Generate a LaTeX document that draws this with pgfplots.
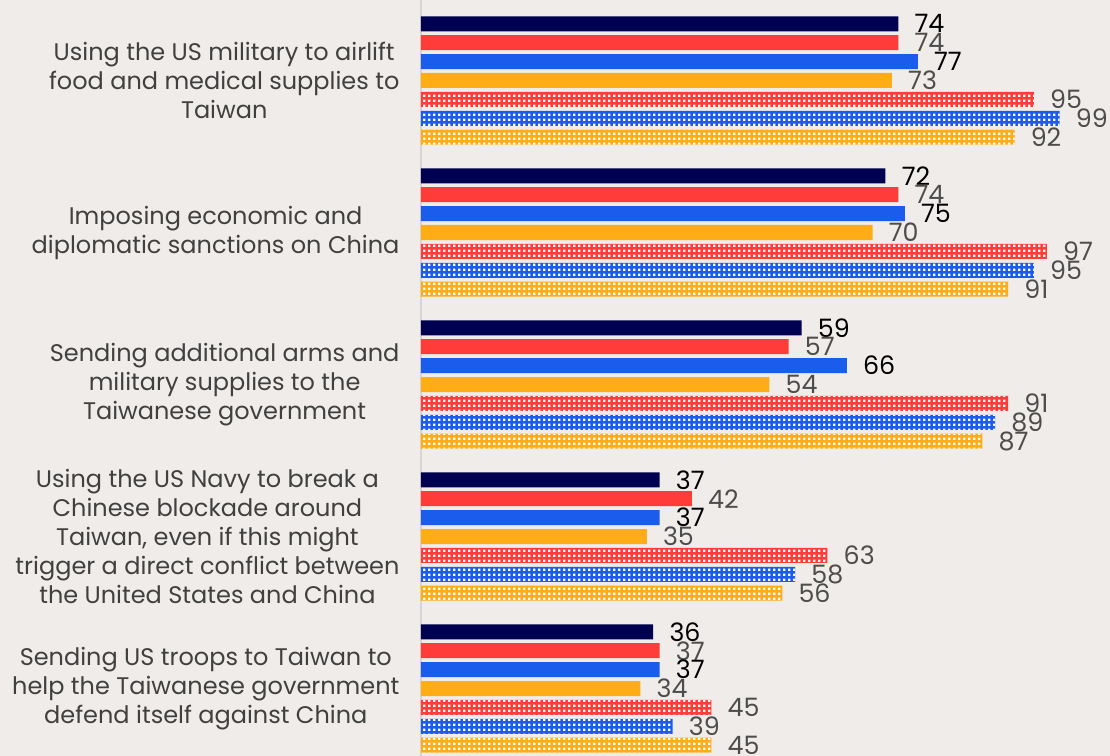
\documentclass[border=0pt]{standalone}
\usepackage{pgfplots}
\pgfplotsset{compat=1.18}
\usepackage{fontspec}
\setmainfont{Poppins}
\usetikzlibrary{patterns}
\definecolor{bg}{RGB}{239,236,233}
\definecolor{navy}{RGB}{0,0,80}
\definecolor{cred}{RGB}{255,60,56}
\definecolor{cblue}{RGB}{27,92,237}
\definecolor{corange}{RGB}{255,173,23}
\definecolor{textgray}{RGB}{64,64,64}
\definecolor{valgray}{RGB}{77,77,77}
\definecolor{linegray}{RGB}{215,212,209}
\pgfdeclarepatternformonly{whitesq}{\pgfpointorigin}{\pgfqpoint{3.6pt}{3.6pt}}{\pgfqpoint{3.6pt}{3.6pt}}{%
  \pgfpathrectangle{\pgfqpoint{0.9pt}{0.9pt}}{\pgfqpoint{1.8pt}{1.8pt}}\pgfusepath{fill}}
\begin{document}
\begin{tikzpicture}
\useasboundingbox (-315.75pt,0pt) rectangle (516.75pt,567pt);
\fill[bg] (-315.75pt,0pt) rectangle (516.75pt,567pt);
\begin{axis}[
  scale only axis, width=516.75pt, height=567pt,
  xmin=0, xmax=106.8, ymin=-0.5296, ymax=4.444,
  y dir=reverse, xbar, bar width=0.0987,
  clip=false,
  /pgf/number format/assume math mode=true,
  axis x line=none, axis y line=left,
  y axis line style={-, draw=linegray, line width=2.2pt},
  major tick length=0pt,
  ytick={0,1,2,3,4},
  yticklabels={
    {Using the US military to airlift\\food and medical supplies to\\Taiwan},
    {Imposing economic and\\diplomatic sanctions on China},
    {Sending additional arms and\\military supplies to the\\Taiwanese government},
    {Using the US Navy to break a\\Chinese blockade around\\Taiwan, even if this might\\trigger a direct conflict between\\the United States and China},
    {Sending US troops to Taiwan to\\help the Taiwanese government\\defend itself against China}},
  yticklabel style={align=center, text=textgray, font=\fontsize{18}{21.75}\selectfont, inner sep=0pt, xshift=-16pt},
  nodes near coords,
  nodes near coords style={anchor=west, inner sep=0pt, xshift=12pt, font=\fontsize{19}{20}\selectfont, text=valgray},
]
\addplot[fill=navy, draw=none, bar shift=-0.3729, nodes near coords style={text=black}] coordinates {(74,0) (72,1) (59,2) (37,3) (36,4)};
\addplot[fill=cred, draw=none, bar shift=-0.2486] coordinates {(74,0) (74,1) (57,2) (42,3) (37,4)};
\addplot[fill=cblue, draw=none, bar shift=-0.1243, nodes near coords style={text=black}] coordinates {(77,0) (75,1) (66,2) (37,3) (37,4)};
\addplot[fill=corange, draw=none, bar shift=0] coordinates {(73,0) (70,1) (54,2) (35,3) (34,4)};
\addplot[fill=cred, draw=none, bar shift=0.1243, postaction={pattern=whitesq, pattern color=white}] coordinates {(95,0) (97,1) (91,2) (63,3) (45,4)};
\addplot[fill=cblue, draw=none, bar shift=0.2486, postaction={pattern=whitesq, pattern color=white}] coordinates {(99,0) (95,1) (89,2) (58,3) (39,4)};
\addplot[fill=corange, draw=none, bar shift=0.3729, postaction={pattern=whitesq, pattern color=white}] coordinates {(92,0) (91,1) (87,2) (56,3) (45,4)};
\end{axis}
\end{tikzpicture}
\end{document}
